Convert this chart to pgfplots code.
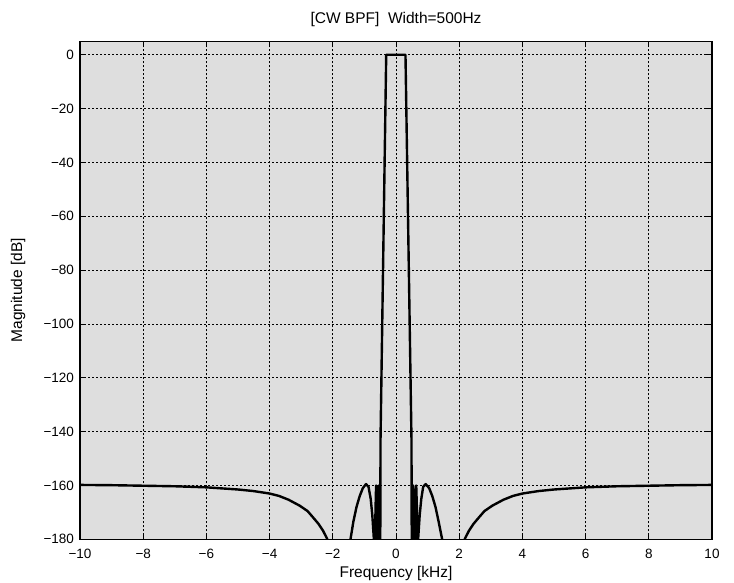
\documentclass[border=0pt]{standalone}
\usepackage{fontspec}
\setmainfont{Liberation Sans}
\usepackage{pgfplots}
\pgfplotsset{compat=1.18}
\definecolor{bggray}{RGB}{222,222,222}
\begin{document}
\fontsize{13}{15}\selectfont
\begin{tikzpicture}
\useasboundingbox (0,0) rectangle (734pt,583pt);
\begin{axis}[
    at={(80pt,43.7pt)}, anchor=south west,
    scale only axis, width=632pt, height=498pt,
    xmin=-10, xmax=10, ymin=-180, ymax=5,
    xtick={-10,-8,...,10}, ytick={-180,-160,...,0},
    xticklabels={−10,−8,−6,−4,−2,0,2,4,6,8,10},
    yticklabels={−180,−160,−140,−120,−100,−80,−60,−40,−20,0},
    ticklabel style={font=\fontsize{13.5}{15}\selectfont},
    xticklabel style={yshift=-5.5pt},
    yticklabel style={xshift=-1.5pt},
    tick align=inside, major tick length=6pt,
    tick style={black, line width=0.8pt},
    axis line style={black, line width=1.1pt},
    axis background/.style={fill=bggray},
    grid=major,
    major grid style={black, line width=0.7pt, dash pattern=on 2pt off 2pt},
    every axis title shift=0pt,
    title={[CW BPF]\ \ Width=500Hz},
    title style={at={(axis description cs:0.5,1.0438)}, anchor=center, font=\fontsize{15.5}{17}\selectfont},
    xlabel={Frequency [kHz]},
    xlabel style={at={(axis description cs:0.5,-0.0683)}, anchor=center, font=\fontsize{15.5}{17}\selectfont},
    ylabel={Magnitude [dB]},
    ylabel style={at={(axis description cs:-0.098,0.5)}, anchor=center, font=\fontsize{15.5}{17}\selectfont},
  ]
  \addplot[black, line width=2.4pt, line join=round] coordinates {
    (-10,-159.8) (-9,-159.9) (-8,-160.1) (-7,-160.3) (-6,-160.7) (-5,-161.5)
    (-4.5,-162.1) (-4,-163.0) (-3.7,-163.9) (-3.4,-165.3) (-3.05,-167.5)
    (-2.8,-169.5) (-2.63,-171.8) (-2.45,-174.3) (-2.31,-176.8) (-2.2,-179.3)
    (-2.1,-182) (-2.0,-195) (-1.6,-195)
    (-1.5,-186) (-1.44,-180) (-1.35,-173.5) (-1.25,-168) (-1.15,-164)
    (-1.05,-161) (-0.95,-159.5) (-0.87,-160.5) (-0.80,-165) (-0.75,-171)
    (-0.70,-180) (-0.68,-190)
    (-0.665,-190) (-0.65,-170) (-0.63,-160) (-0.61,-170) (-0.595,-190)
    (-0.57,-190) (-0.555,-170) (-0.54,-160) (-0.525,-170) (-0.51,-190)
    (-0.50,-190) (-0.49,-143) (-0.31,0)
    (0.30,0)
    (0.49,-143) (0.50,-190)
    (0.51,-190) (0.525,-170) (0.545,-160) (0.565,-170) (0.58,-190)
    (0.60,-190) (0.615,-170) (0.64,-160) (0.665,-170) (0.68,-190)
    (0.70,-180) (0.75,-171) (0.80,-165) (0.86,-160.5) (0.94,-159.5)
    (1.05,-161) (1.15,-164) (1.25,-168) (1.35,-173.5) (1.46,-180)
    (1.5,-186) (1.6,-195) (2.0,-195)
    (2.1,-182) (2.2,-179.3) (2.31,-176.8) (2.45,-174.3) (2.63,-171.8)
    (2.8,-169.5) (3.05,-167.5) (3.4,-165.3) (3.7,-163.9) (4,-163.0)
    (4.5,-162.1) (5,-161.5) (6,-160.7) (7,-160.3) (8,-160.1) (9,-159.9)
    (10,-159.8)
  };
\end{axis}
\end{tikzpicture}
\end{document}
